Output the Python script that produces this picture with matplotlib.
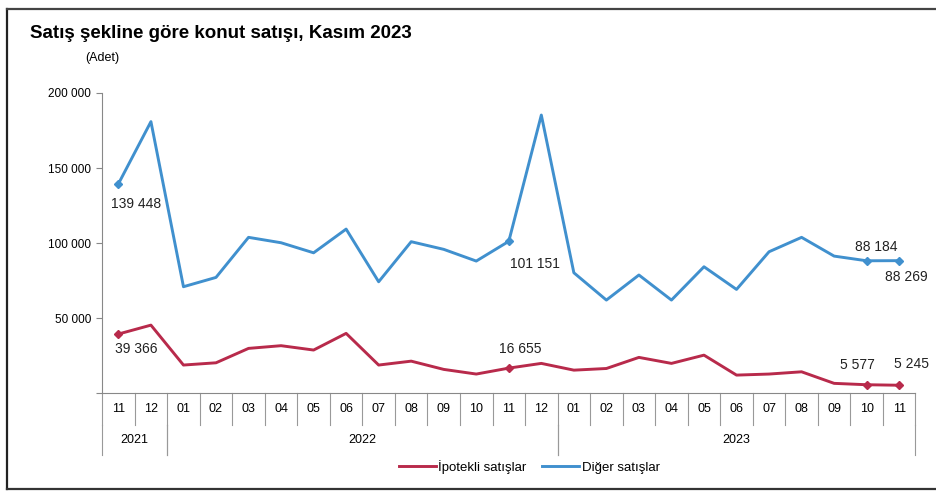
import matplotlib.pyplot as plt
from matplotlib.lines import Line2D

plt.rcParams['font.family'] = ['Liberation Sans', 'DejaVu Sans']

months = ['11', '12', '01', '02', '03', '04', '05', '06', '07', '08', '09', '10', '11',
          '12', '01', '02', '03', '04', '05', '06', '07', '08', '09', '10', '11']
years = ['2021', '2022', '2023']
year_spans = [(0, 2), (2, 14), (14, 25)]

ipotekli = [39366, 45300, 18700, 20200, 29800, 31600, 28700, 39800, 18700, 21300, 15800, 12700,
            16655, 19800, 15300, 16400, 23800, 19800, 25300, 12000, 12700, 14200, 6500, 5577, 5245]
diger = [139448, 180900, 70900, 77100, 103800, 100200, 93500, 109300, 74200, 100900, 95800, 88000,
         101151, 185300, 80200, 62000, 78700, 62000, 84200, 69100, 94200, 103800, 91300, 88184, 88269]

red = '#B82A4B'
blue = '#4090CE'

fig = plt.figure(figsize=(9.37, 4.92), dpi=100)
ax = fig.add_axes([0.109, 0.201, 0.868, 0.610])

x = list(range(len(months)))
ax.plot(x, ipotekli, color=red, lw=2.1, label='İpotekli satışlar')
ax.plot(x, diger, color=blue, lw=2.1, label='Diğer satışlar')

# marked points with data labels
marked = [0, 12, 23, 24]
ax.plot([x[i] for i in marked], [ipotekli[i] for i in marked], 'D', color=red, ms=4)
ax.plot([x[i] for i in marked], [diger[i] for i in marked], 'D', color=blue, ms=4)


def fmt(v):
    return f'{v:,}'.replace(',', ' ')


lbl = dict(fontsize=10, color='#222222', textcoords='offset points', ha='center', va='center')
ax.annotate(fmt(diger[0]), (0, diger[0]), xytext=(13, -14.5), **lbl)
ax.annotate(fmt(ipotekli[0]), (0, ipotekli[0]), xytext=(13, -11), **lbl)
ax.annotate(fmt(diger[12]), (12, diger[12]), xytext=(19, -16), **lbl)
ax.annotate(fmt(ipotekli[12]), (12, ipotekli[12]), xytext=(8, 14), **lbl)
ax.annotate(fmt(diger[23]), (23, diger[23]), xytext=(7, 10), **lbl)
ax.annotate(fmt(diger[24]), (24, diger[24]), xytext=(5, -11.5), **lbl)
ax.annotate(fmt(ipotekli[23]), (23, ipotekli[23]), xytext=(-6.5, 14), **lbl)
ax.annotate(fmt(ipotekli[24]), (24, ipotekli[24]), xytext=(9, 15), **lbl)

ax.set_xlim(-0.5, len(months) - 0.5)
ax.set_ylim(0, 200000)
ax.set_yticks([0, 50000, 100000, 150000, 200000])
ax.set_yticklabels(['', '50 000', '100 000', '150 000', '200 000'], fontsize=8.5)
ax.tick_params(axis='y', length=4, color='#888888', pad=4)
ax.set_xticks([])
for s in ['top', 'right']:
    ax.spines[s].set_visible(False)
ax.spines['left'].set_color('#888888')
ax.spines['bottom'].set_color('#888888')

# two level category table under the axis
row1 = -0.107
row2 = -0.207
lc = '#999999'
tr = ax.get_xaxis_transform()
for k in range(len(months) + 1):
    ax.plot([k - 0.5, k - 0.5], [0, row1], transform=tr, color=lc, lw=0.8, clip_on=False)
for i, m in enumerate(months):
    ax.text(i, row1 / 2, m, transform=tr, ha='center', va='center', fontsize=9)
for (a, b), yr in zip(year_spans, years):
    for e in (a, b):
        ax.plot([e - 0.5, e - 0.5], [row1, row2], transform=tr, color=lc, lw=0.8, clip_on=False)
    ax.text((a + b - 1) / 2, (row1 + row2) / 2, yr, transform=tr, ha='center', va='center', fontsize=9)

fig.text(0.032, 0.932, 'Satış şekline göre konut satışı, Kasım 2023', fontsize=13.5, fontweight='bold', va='center')
fig.text(0.091, 0.882, '(Adet)', fontsize=9, va='center')

fig.legend(loc='center', bbox_to_anchor=(0.565, 0.051), ncol=2, frameon=False, fontsize=9.5,
           handlelength=2.8, handletextpad=0.2, columnspacing=1.2)

# scanned frame: left, top and bottom edges (runs off the right side)
fig.lines.append(Line2D([0.0075, 0.0075], [0.006, 0.982], transform=fig.transFigure, color='#222222', lw=1.6))
fig.lines.append(Line2D([0.0075, 1.0], [0.982, 0.982], transform=fig.transFigure, color='#444444', lw=1.6))
fig.lines.append(Line2D([0.0075, 1.0], [0.006, 0.006], transform=fig.transFigure, color='#333333', lw=1.6))

fig.savefig('out.png', dpi=100)
